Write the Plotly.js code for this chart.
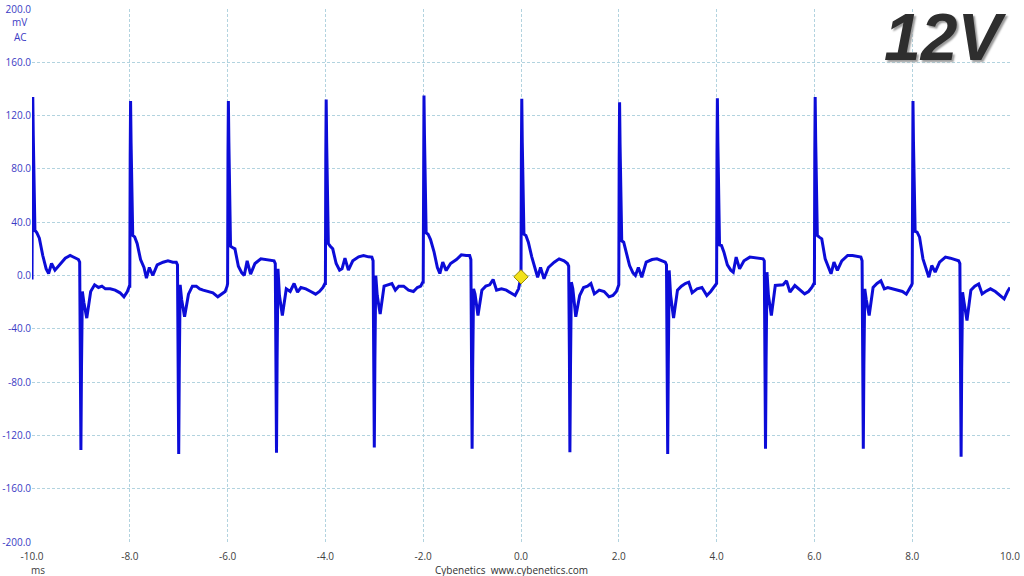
<!DOCTYPE html>
<html>
<head>
<meta charset="utf-8">
<script src="https://cdn.plot.ly/plotly-3.0.1.min.js"></script>
<style>
  html, body { margin: 0; padding: 0; background: #ffffff; }
  #chart { width: 1024px; height: 576px; }
</style>
</head>
<body>
<div id="chart"></div>
<script>
// ---- Data (12V rail ripple, AC, mV vs ms) ----
const timeMs = [
  -10.000, -9.992, -9.984, -9.974, -9.960, -9.940, -9.900, -9.850, -9.780, -9.710, -9.660, -9.600, -9.530, -9.440, -9.320, -9.220, -9.120, -9.050, -9.025, -9.010, -9.000, -8.988, -8.970, -8.940, -8.880, -8.800, -8.720, -8.640, -8.570, -8.500, -8.400, -8.300, -8.200, -8.120, -8.050, -8.010,
  -8.000, -7.992, -7.984, -7.974, -7.960, -7.940, -7.900, -7.850, -7.780, -7.710, -7.660, -7.600, -7.530, -7.440, -7.320, -7.220, -7.120, -7.050, -7.025, -7.010, -7.000, -6.988, -6.970, -6.940, -6.880, -6.800, -6.720, -6.640, -6.570, -6.500, -6.400, -6.300, -6.200, -6.120, -6.050, -6.010,
  -6.000, -5.992, -5.984, -5.974, -5.960, -5.940, -5.900, -5.850, -5.780, -5.710, -5.660, -5.600, -5.530, -5.440, -5.320, -5.220, -5.120, -5.050, -5.025, -5.010, -5.000, -4.988, -4.970, -4.940, -4.880, -4.800, -4.720, -4.640, -4.570, -4.500, -4.400, -4.300, -4.200, -4.120, -4.050, -4.010,
  -4.000, -3.992, -3.984, -3.974, -3.960, -3.940, -3.900, -3.850, -3.780, -3.710, -3.660, -3.600, -3.530, -3.440, -3.320, -3.220, -3.120, -3.050, -3.025, -3.010, -3.000, -2.988, -2.970, -2.940, -2.880, -2.800, -2.720, -2.640, -2.570, -2.500, -2.400, -2.300, -2.200, -2.120, -2.050, -2.010,
  -2.000, -1.992, -1.984, -1.974, -1.960, -1.940, -1.900, -1.850, -1.780, -1.710, -1.660, -1.600, -1.530, -1.440, -1.320, -1.220, -1.120, -1.050, -1.025, -1.010, -1.000, -0.988, -0.970, -0.940, -0.880, -0.800, -0.720, -0.640, -0.570, -0.500, -0.400, -0.300, -0.200, -0.120, -0.050, -0.010,
  0.000, 0.008, 0.016, 0.026, 0.040, 0.060, 0.100, 0.150, 0.220, 0.290, 0.340, 0.400, 0.470, 0.560, 0.680, 0.780, 0.880, 0.950, 0.975, 0.990, 1.000, 1.012, 1.030, 1.060, 1.120, 1.200, 1.280, 1.360, 1.430, 1.500, 1.600, 1.700, 1.800, 1.880, 1.950, 1.990,
  2.000, 2.008, 2.016, 2.026, 2.040, 2.060, 2.100, 2.150, 2.220, 2.290, 2.340, 2.400, 2.470, 2.560, 2.680, 2.780, 2.880, 2.950, 2.975, 2.990, 3.000, 3.012, 3.030, 3.060, 3.120, 3.200, 3.280, 3.360, 3.430, 3.500, 3.600, 3.700, 3.800, 3.880, 3.950, 3.990,
  4.000, 4.008, 4.016, 4.026, 4.040, 4.060, 4.100, 4.150, 4.220, 4.290, 4.340, 4.400, 4.470, 4.560, 4.680, 4.780, 4.880, 4.950, 4.975, 4.990, 5.000, 5.012, 5.030, 5.060, 5.120, 5.200, 5.280, 5.360, 5.430, 5.500, 5.600, 5.700, 5.800, 5.880, 5.950, 5.990,
  6.000, 6.008, 6.016, 6.026, 6.040, 6.060, 6.100, 6.150, 6.220, 6.290, 6.340, 6.400, 6.470, 6.560, 6.680, 6.780, 6.880, 6.950, 6.975, 6.990, 7.000, 7.012, 7.030, 7.060, 7.120, 7.200, 7.280, 7.360, 7.430, 7.500, 7.600, 7.700, 7.800, 7.880, 7.950, 7.990,
  8.000, 8.008, 8.016, 8.026, 8.040, 8.060, 8.100, 8.150, 8.220, 8.290, 8.340, 8.400, 8.470, 8.560, 8.680, 8.780, 8.880, 8.950, 8.975, 8.990, 9.000, 9.012, 9.030, 9.060, 9.120, 9.200, 9.280, 9.360, 9.430, 9.500, 9.600, 9.700, 9.800, 9.880, 9.950, 9.990,
  10.000
];

const rippleMv = [
  -3, 95, 134, 105, 55, 34, 32, 28, 15, 5, 1.5, 9, 4, 8, 13, 15, 13, 12, 10, -60, -131, -70, -12, -20, -32, -12, -7, -9, -8, -10, -10, -11, -13, -16, -12, -8,
  -8, 90, 131, 100, 50, 30, 29, 24, 12, 6, -2, 6, 0, 8, 10, 11, 10, 10, 8, -60, -134, -70, -7, -18, -31, -14, -8, -8, -10, -11, -12, -13, -16, -14, -12, -8,
  -6, 92, 131, 100, 45, 22, 21, 20, 7, 2, 0, 11, 1, 9, 12.5, 12, 11, 11, 9, -60, -133, -65, 5, -15, -30, -10, -12, -6, -12.5, -9, -10, -12, -14, -12, -9, -6,
  -6, 90, 132, 100, 45, 24, 22, 20, 9, 4, 5, 13, 4, 11, 14, 15, 14, 13.8, 11, -60, -129, -65, 0, -15, -29, -8, -7, -6, -11, -8, -8, -11, -12, -9, -8, -5,
  -6, 95, 135, 105, 50, 32, 31, 27, 18, 6, 1.5, 10, 3.7, 9, 12, 15.5, 15, 15, 12, -60, -130, -70, -10, -14, -30, -11, -8, -7, -3, -11, -10, -11, -13, -15, -10, -3,
  -1, 92, 132.6, 100, 48, 31, 30, 25, 14, 6, -1.3, 6, -2.5, 6, 10, 12.5, 11, 9, 7, -60, -132.6, -70, -5, -10, -31, -15, -9, -8, -6, -13.8, -11, -12, -16, -15, -12, -8,
  -7, 88, 130, 98, 45, 26, 25, 18, 7.5, 2, 0, 6, -1.3, 10, 12, 12.5, 11, 10, 8, -60, -134, -68, 3.8, -15, -32, -11, -8, -6, -5, -13, -10, -9, -15, -12, -9, -7,
  -6, 92, 133, 100, 45, 23, 22.5, 17.5, 8, 4, 2.5, 13.8, 5, 11, 13.8, 13.5, 13, 12.5, 11, -60, -130, -65, 2.5, -15, -30, -7.5, -7.5, -7, -4, -12.5, -7.5, -11, -13.8, -12, -8.8, -6,
  -6, 93, 134, 102, 50, 30, 28.8, 27.5, 12.5, 5, 1.3, 10, 3.8, 11, 15, 15, 14, 13.8, 11, -60, -130, -68, -10, -18, -30, -9, -6, -4, -10, -9, -10, -11, -12, -14, -10, -7,
  -6, 90, 131, 100, 50, 33, 32.5, 28.8, 12.5, 5, -1.3, 7.5, 2.5, 10, 13.8, 13, 12, 11, 9, -60, -136, -70, -12.5, -20, -33.8, -11, -8, -6.3, -13.8, -12, -10, -12, -15, -17.5, -12, -9,
  -9
];

// Trigger marker (yellow diamond)
const triggerMs = [0.0];
const triggerMv = [-1];

// Axis ticks
const xTickVals = [-10, -8, -6, -4, -2, 0, 2, 4, 6, 8, 10];
const xTickText = ["-10.0", "-8.0", "-6.0", "-4.0", "-2.0", "0.0", "2.0", "4.0", "6.0", "8.0", "10.0"];
const yTickVals = [-200, -160, -120, -80, -40, 0, 40, 80, 120, 160, 200];
const yTickText = ["-200.0", "-160.0", "-120.0", "-80.0", "-40.0", "0.0", "40.0", "80.0", "120.0", "160.0", "200.0"];

const railLabel = "12V";
const yUnitLabel = "mV";
const couplingLabel = "AC";
const xUnitLabel = "ms";
const footerLabel = "Cybenetics&nbsp;&nbsp;www.cybenetics.com";

// ---- Plot ----
const gridColor = "#b2d3df";
const traces = [
  {
    x: timeMs, y: rippleMv, type: "scatter", mode: "lines",
    line: { color: "#0c0cd8", width: 3 },
    hoverinfo: "skip"
  },
  {
    x: triggerMs, y: triggerMv, type: "scatter", mode: "markers",
    marker: { symbol: "diamond", size: 11, color: "#f2e21c", line: { color: "#9a8a00", width: 1 } },
    hoverinfo: "skip"
  }
];

const layout = {
  width: 1024, height: 576,
  margin: { l: 32, r: 14, t: 9, b: 34, pad: 0 },
  paper_bgcolor: "#ffffff", plot_bgcolor: "#ffffff",
  showlegend: false,
  font: { family: "Open Sans, Noto Sans, sans-serif", size: 10 },
  xaxis: {
    range: [-10, 10], tickmode: "array", tickvals: xTickVals, ticktext: xTickText,
    showgrid: true, gridcolor: gridColor, griddash: "3px,2px", gridwidth: 1,
    zeroline: false, showline: false,
    ticks: "outside", ticklen: 5, tickcolor: "rgba(0,0,0,0)",
    tickfont: { color: "#404040", size: 10 },
    fixedrange: true
  },
  yaxis: {
    range: [-200, 200], tickmode: "array", tickvals: yTickVals, ticktext: yTickText,
    showgrid: true, gridcolor: gridColor, griddash: "3px,2px", gridwidth: 1,
    zeroline: false, showline: false, ticks: "",
    tickfont: { color: "#3a3ac4", size: 10 },
    fixedrange: true
  },
  annotations: [
    { text: yUnitLabel, xref: "paper", yref: "paper", x: 0, y: 0.9756, xanchor: "right", yanchor: "middle",
      xshift: -3, showarrow: false, font: { color: "#3a3ac4", size: 10 } },
    { text: couplingLabel, xref: "paper", yref: "paper", x: 0, y: 0.9475, xanchor: "right", yanchor: "middle",
      xshift: -3, showarrow: false, font: { color: "#3a3ac4", size: 10 } },
    { text: xUnitLabel, xref: "paper", yref: "paper", x: 0.006, y: -0.0516, xanchor: "center", yanchor: "middle",
      showarrow: false, font: { color: "#404040", size: 10 } },
    { text: footerLabel, xref: "paper", yref: "paper", x: 0.49, y: -0.0516, xanchor: "center", yanchor: "middle",
      showarrow: false, font: { color: "#303030", size: 10 } },
    { text: railLabel, xref: "paper", yref: "paper", x: 0.9335, y: 0.947, xanchor: "center", yanchor: "middle",
      showarrow: false,
      font: { family: "Liberation Sans, Arial, sans-serif", size: 66, color: "#2e2e2e", weight: "bold", style: "italic",
              shadow: "2px 2px 2px #9a9a9a" } }
  ]
};

Plotly.newPlot("chart", traces, layout, { displayModeBar: false, staticPlot: true });
</script>
</body>
</html>
